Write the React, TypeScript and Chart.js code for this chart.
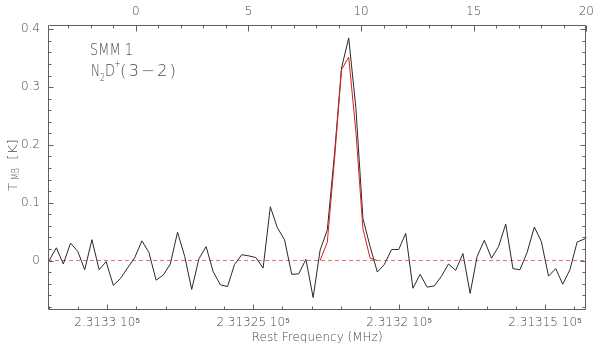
import React, { useEffect, useRef } from "react";
import { Chart, registerables } from "chart.js";
Chart.register(...registerables);

// ---- data ----
const velocity = [-3.85, -3.53, -3.22, -2.90, -2.58, -2.27, -1.95, -1.63, -1.32, -1.00, -0.68, -0.37, -0.05, 0.27, 0.58, 0.90, 1.22, 1.53, 1.85, 2.17, 2.48, 2.80, 3.12, 3.43, 3.75, 4.07, 4.38, 4.70, 5.02, 5.33, 5.65, 5.97, 6.28, 6.60, 6.92, 7.23, 7.55, 7.87, 8.18, 8.50, 8.82, 9.13, 9.45, 9.77, 10.08, 10.40, 10.72, 11.03, 11.35, 11.67, 11.98, 12.30, 12.62, 12.93, 13.25, 13.57, 13.88, 14.20, 14.52, 14.84, 15.15, 15.47, 15.79, 16.10, 16.42, 16.74, 17.05, 17.37, 17.69, 18.00, 18.32, 18.64, 18.95, 19.27, 19.59, 19.90, 20.22];
const tmb = [0.000, 0.022, -0.006, 0.030, 0.016, -0.016, 0.036, -0.016, -0.002, -0.043, -0.031, -0.013, 0.005, 0.034, 0.014, -0.034, -0.025, -0.006, 0.049, 0.007, -0.050, 0.003, 0.024, -0.019, -0.042, -0.045, -0.007, 0.010, 0.008, 0.005, -0.013, 0.093, 0.057, 0.036, -0.024, -0.023, 0.002, -0.064, 0.018, 0.053, 0.185, 0.333, 0.385, 0.263, 0.073, 0.024, -0.020, -0.007, 0.019, 0.019, 0.047, -0.048, -0.024, -0.046, -0.044, -0.027, -0.006, -0.017, 0.012, -0.057, 0.007, 0.035, 0.004, 0.024, 0.063, -0.014, -0.016, 0.014, 0.058, 0.033, -0.027, -0.014, -0.041, -0.016, 0.032, 0.037, 0.045];
const fitVelocity = [8.18, 8.50, 8.82, 9.13, 9.45, 9.77, 10.08, 10.40, 10.72];
const fitTmb = [0, 0.032, 0.175, 0.330, 0.352, 0.222, 0.055, 0.004, 0];
const baselineVelocity = [-3.9, 20];
const baselineTmb = [0, 0];

// axis ranges
const velMin = -3.9;
const velMax = 20;
const freqAtLeft = 231332.03;
const freqAtRight = 231313.59;
const yMin = -0.0856;
const yMax = 0.4074;

// ticks
const yAllTicks = [-0.08, -0.06, -0.04, -0.02, 0, 0.02, 0.04, 0.06, 0.08, 0.1, 0.12, 0.14, 0.16, 0.18, 0.2, 0.22, 0.24, 0.26, 0.28, 0.3, 0.32, 0.34, 0.36, 0.38, 0.4];
const yMajorTicks = [0, 0.1, 0.2, 0.3, 0.4];
const yMajorLabels = ["0", "0.1", "0.2", "0.3", "0.4"];
const velAllTicks = [-3, -2, -1, 0, 1, 2, 3, 4, 5, 6, 7, 8, 9, 10, 11, 12, 13, 14, 15, 16, 17, 18, 19, 20];
const velMajorTicks = [0, 5, 10, 15, 20];
const velMajorLabels = ["0", "5", "10", "15", "20"];
const freqAllTicks = [231314, 231315, 231316, 231317, 231318, 231319, 231320, 231321, 231322, 231323, 231324, 231325, 231326, 231327, 231328, 231329, 231330, 231331, 231332];
const freqMajorTicks = [231330, 231325, 231320, 231315];
const freqMajorLabels = ["2.3133 10⁵", "2.31325 10⁵", "2.3132 10⁵", "2.31315 10⁵"];

const FONT = "'DejaVu Sans', sans-serif";
const WEIGHT = 200;
const TEXT = "#4a4a4a";
const AXIS = "#606060";

function majorIndex(majors: number[], v: number) {
  return majors.findIndex((m) => Math.abs(m - v) < 1e-6);
}

function fitText(ctx: CanvasRenderingContext2D, text: string, x: number, y: number, size: number, width: number, spacing = 0) {
  ctx.font = `${WEIGHT} ${size}px ${FONT}`;
  (ctx as any).letterSpacing = `${spacing}px`;
  const w = ctx.measureText(text).width;
  ctx.save();
  ctx.translate(x, y);
  ctx.scale(width / w, 1);
  ctx.fillText(text, 0, 0);
  ctx.restore();
  (ctx as any).letterSpacing = "0px";
}

const framePlugin = {
  id: "idlFrame",
  afterDatasetsDraw(chart: any) {
    const { ctx, chartArea, scales } = chart;
    const L = Math.round(chartArea.left) + 0.5;
    const R = Math.round(chartArea.right) - 0.5;
    const T = Math.round(chartArea.top) + 0.5;
    const B = Math.round(chartArea.bottom) - 0.5;
    ctx.save();
    ctx.strokeStyle = AXIS;
    ctx.lineWidth = 1;
    ctx.beginPath();
    ctx.rect(L, T, R - L, B - T);
    // y ticks (left & right, inward)
    for (const t of scales.y.ticks) {
      const py = Math.round(scales.y.getPixelForValue(t.value)) + 0.5;
      const len = majorIndex(yMajorTicks, t.value) >= 0 ? 5 : 3;
      ctx.moveTo(L, py); ctx.lineTo(L + len, py);
      ctx.moveTo(R, py); ctx.lineTo(R - len, py);
    }
    for (const t of scales.xVel.ticks) {
      const px = Math.round(scales.xVel.getPixelForValue(t.value)) + 0.5;
      const len = majorIndex(velMajorTicks, t.value) >= 0 ? 6 : 3;
      ctx.moveTo(px, T); ctx.lineTo(px, T + len);
    }
    for (const t of scales.xFreq.ticks) {
      const px = Math.round(scales.xFreq.getPixelForValue(t.value)) + 0.5;
      const len = majorIndex(freqMajorTicks, t.value) >= 0 ? 5 : 3;
      ctx.moveTo(px, B); ctx.lineTo(px, B - len);
    }
    ctx.stroke();

    // annotations
    ctx.fillStyle = TEXT;
    ctx.textBaseline = "alphabetic";
    ctx.textAlign = "left";
    fitText(ctx, "SMM 1", 90, 55, 16, 43);
    fitText(ctx, "N", 91, 76, 16, 9);
    fitText(ctx, "2", 100, 81, 11, 5);
    fitText(ctx, "D", 105, 76, 16, 10);
    fitText(ctx, "+", 114.5, 67, 11, 6);
    fitText(ctx, "(3−2)", 120, 76, 16, 58, 2);

    // y axis title, rotated
    ctx.save();
    ctx.translate(16.5, 191);
    ctx.rotate(-Math.PI / 2);
    fitText(ctx, "T", 0, 0, 13, 8);
    fitText(ctx, "MB", 11, 2.5, 10, 12);
    fitText(ctx, "[K]", 31, 0, 13, 21);
    ctx.restore();
    ctx.restore();
  },
};

export default function App() {
  const ref = useRef<HTMLCanvasElement>(null);
  useEffect(() => {
    const canvas = ref.current!;
    const tickFont = { family: FONT, size: 12, weight: WEIGHT };
    const chart = new Chart(canvas, {
      type: "line",
      data: {
        datasets: [
          {
            label: "fit",
            data: fitVelocity.map((v, i) => ({ x: v, y: fitTmb[i] })),
            xAxisID: "xVel",
            yAxisID: "y",
            borderColor: "#d81e1e",
            borderWidth: 1,
            pointRadius: 0,
            tension: 0,
            clip: 0,
          },
          {
            label: "spectrum",
            data: velocity.map((v, i) => ({ x: v, y: tmb[i] })),
            xAxisID: "xVel",
            yAxisID: "y",
            borderColor: "#2a2a2a",
            borderWidth: 1,
            pointRadius: 0,
            tension: 0,
            clip: 0,
          },
          {
            label: "baseline",
            data: baselineVelocity.map((v, i) => ({ x: v, y: baselineTmb[i] })),
            xAxisID: "xVel",
            yAxisID: "y",
            borderColor: "rgba(225,90,90,0.85)",
            borderWidth: 1,
            borderDash: [4, 3],
            pointRadius: 0,
            clip: 0,
          },
        ],
      },
      options: {
        animation: false,
        responsive: false,
        devicePixelRatio: 1,
        layout: { padding: { left: 0, right: 10, top: 0, bottom: 0 } },
        plugins: { legend: { display: false }, tooltip: { enabled: false }, title: { display: false } },
        events: [],
        scales: {
          xVel: {
            type: "linear",
            axis: "x",
            position: "top",
            min: velMin,
            max: velMax,
            grid: { display: false, drawTicks: false },
            border: { display: false },
            afterBuildTicks: (s: any) => { s.ticks = velAllTicks.map((v) => ({ value: v })); },
            afterFit: (s: any) => { s.height = 25; },
            ticks: {
              autoSkip: false,
              maxRotation: 0,
              minRotation: 0,
              padding: 6,
              color: TEXT,
              font: tickFont,
              callback: (v: any) => { const k = majorIndex(velMajorTicks, Number(v)); return k >= 0 ? velMajorLabels[k] : ""; },
            },
          },
          xFreq: {
            type: "linear",
            axis: "x",
            position: "bottom",
            reverse: true,
            min: freqAtRight,
            max: freqAtLeft,
            grid: { display: false, drawTicks: false },
            border: { display: false },
            afterBuildTicks: (s: any) => { s.ticks = freqAllTicks.map((v) => ({ value: v })); },
            afterFit: (s: any) => { s.height = 37; },
            ticks: {
              autoSkip: false,
              maxRotation: 0,
              minRotation: 0,
              padding: 6,
              color: TEXT,
              font: tickFont,
              callback: (v: any) => { const k = majorIndex(freqMajorTicks, Number(v)); return k >= 0 ? freqMajorLabels[k] : ""; },
            },
            title: {
              display: true,
              text: "Rest Frequency (MHz)",
              color: TEXT,
              font: tickFont,
              padding: { top: 0, bottom: 2 },
            },
          },
          y: {
            type: "linear",
            position: "left",
            min: yMin,
            max: yMax,
            grid: { display: false, drawTicks: false },
            border: { display: false },
            afterBuildTicks: (s: any) => { s.ticks = yAllTicks.map((v) => ({ value: v })); },
            afterFit: (s: any) => { s.width = 48; },
            ticks: {
              autoSkip: false,
              padding: 8,
              color: TEXT,
              font: tickFont,
              callback: (v: any) => { const k = majorIndex(yMajorTicks, Number(v)); return k >= 0 ? yMajorLabels[k] : ""; },
            },
          },
        },
      } as any,
      plugins: [framePlugin],
    });
    return () => chart.destroy();
  }, []);
  return (
    <div style={{ position: "absolute", left: 0, top: 0, width: 600, height: 347, background: "#fff" }}>
      <canvas ref={ref} width={600} height={347} style={{ display: "block", width: 600, height: 347 }} />
    </div>
  );
}
